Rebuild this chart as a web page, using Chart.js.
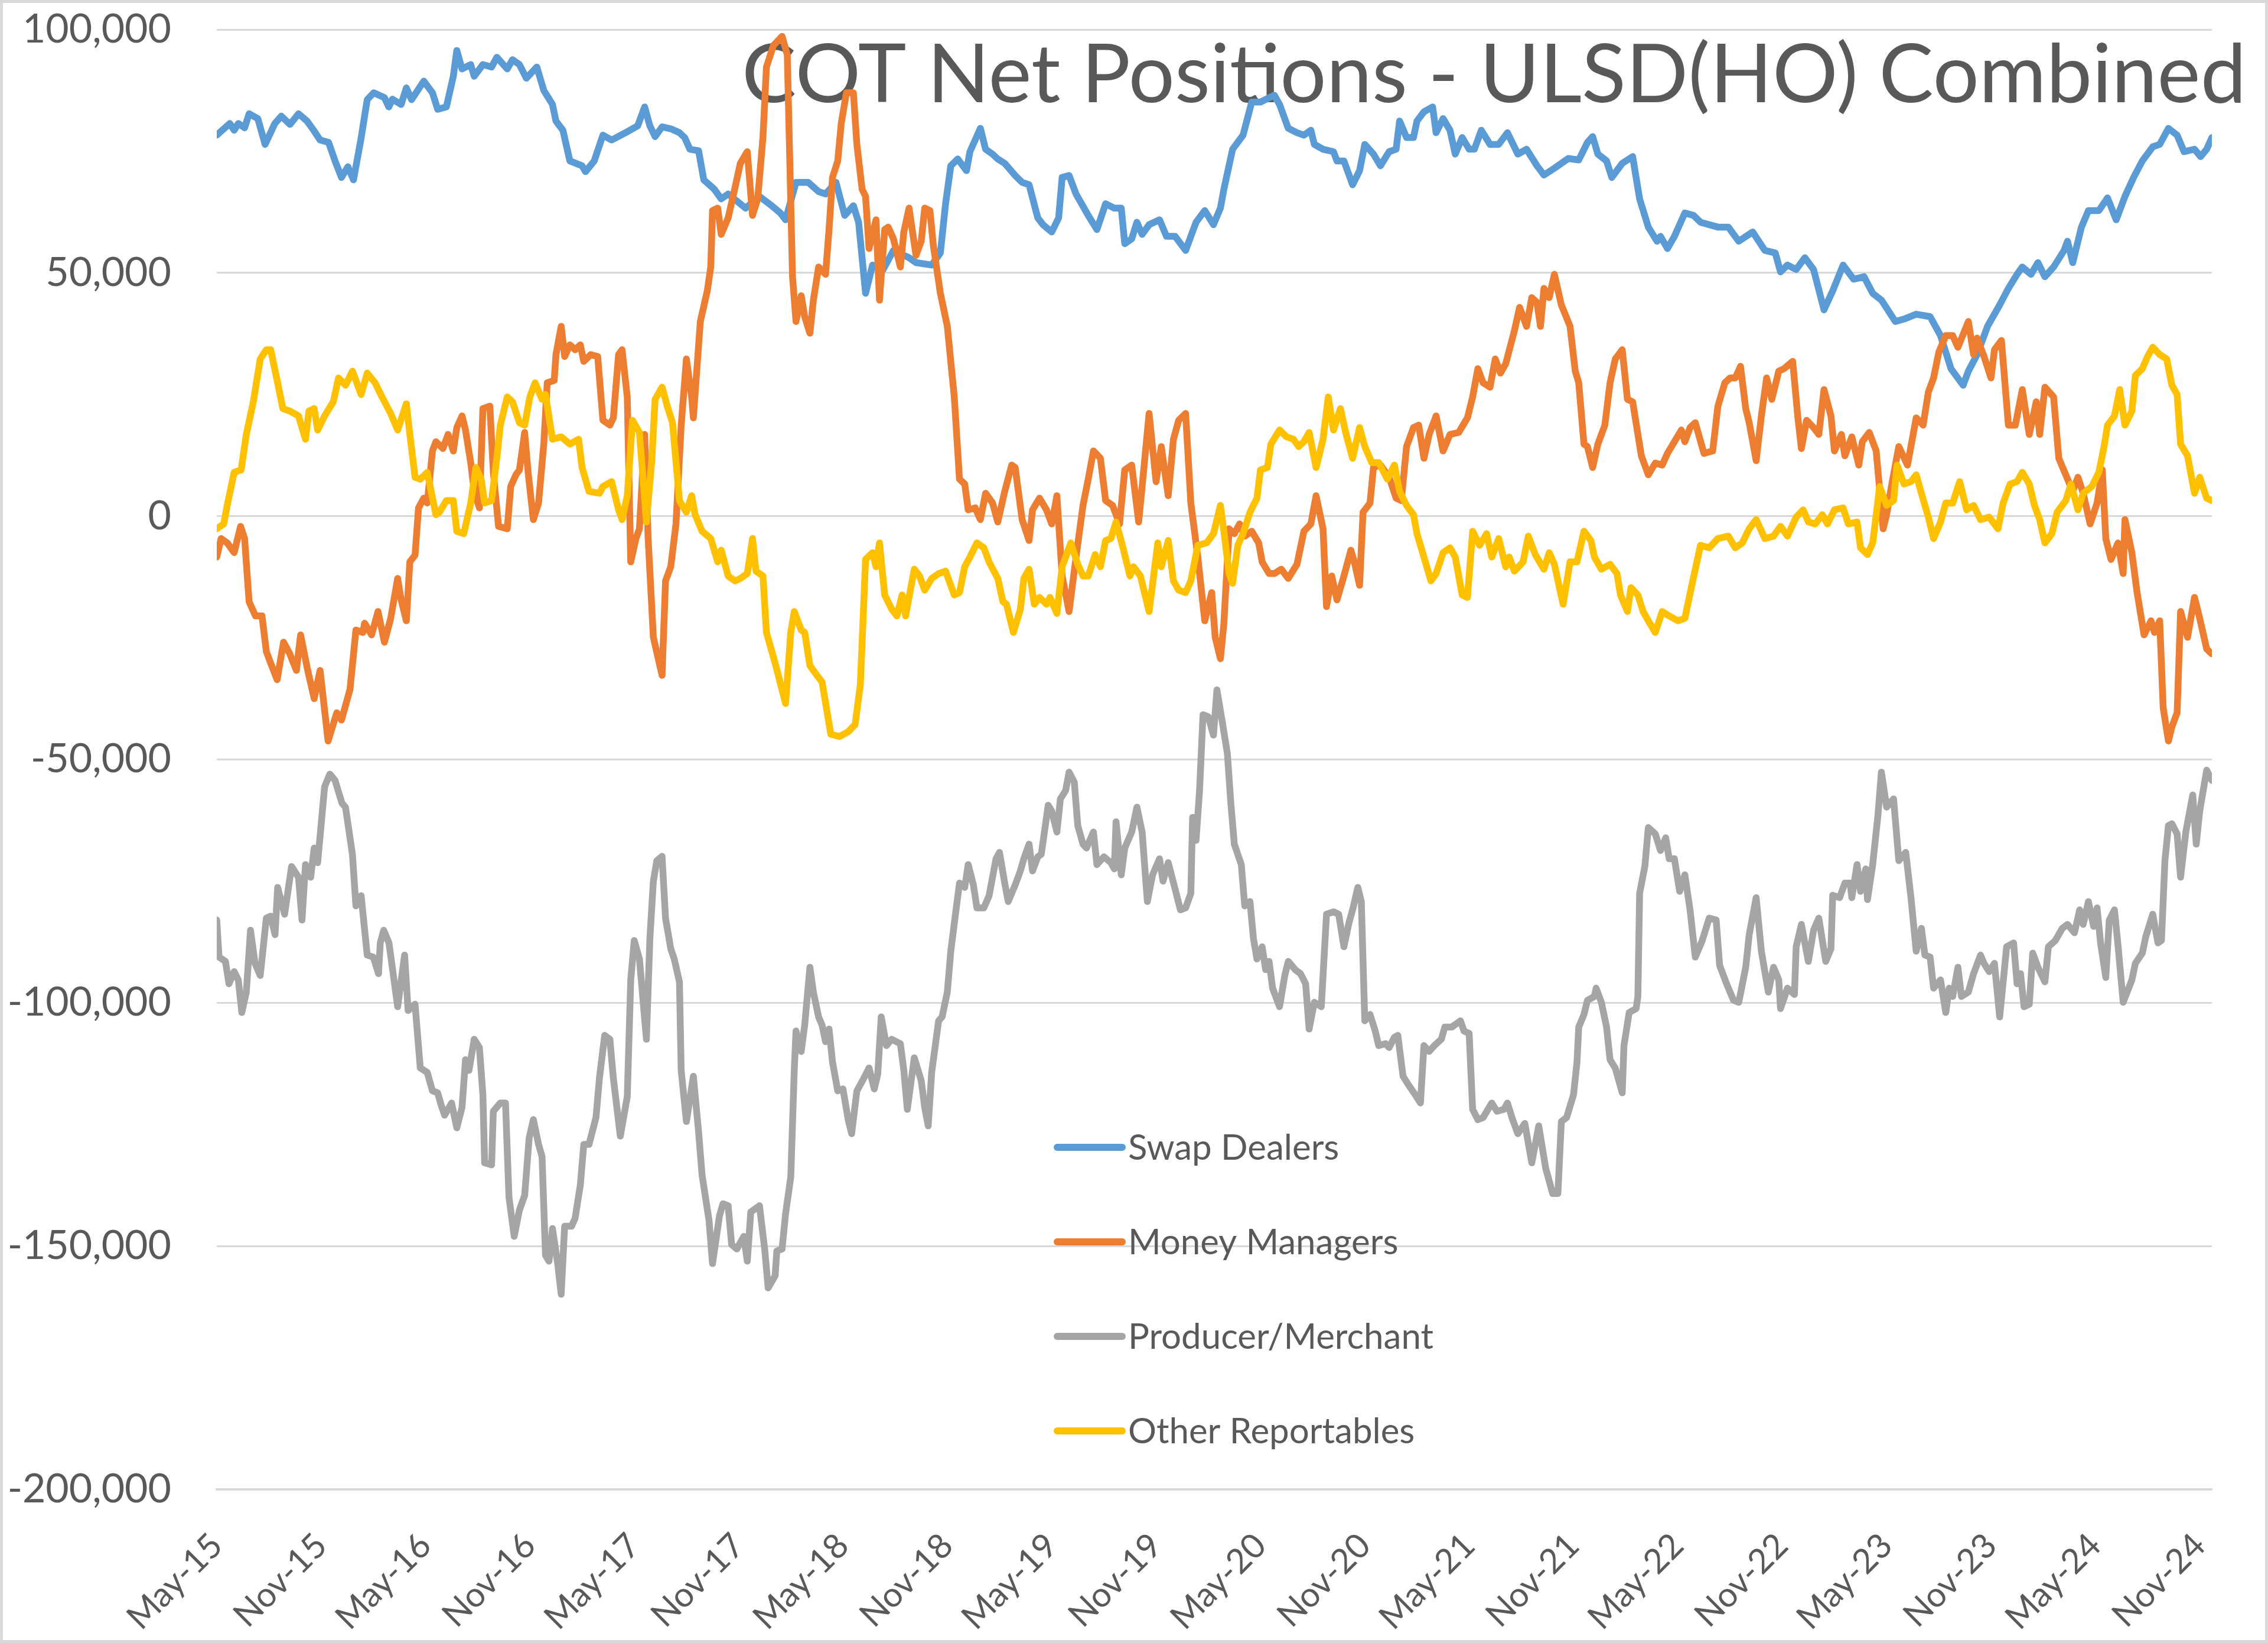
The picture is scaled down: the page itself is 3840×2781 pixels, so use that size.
<!DOCTYPE html>
<html>
<head>
<meta charset="utf-8">
<script src="https://cdn.jsdelivr.net/npm/chart.js@4.4.1/dist/chart.umd.min.js"></script>
<style>
  html, body { margin: 0; padding: 0; background: #ffffff; }
  #wrap { position: relative; width: 3840px; height: 2781px; }
  canvas { display: block; }
</style>
</head>
<body>
<div id="wrap"><canvas id="c" width="3840" height="2781"></canvas></div>
<script>
// ---------------- DATA ----------------
const chartTitle = 'COT Net Positions - ULSD(HO) Combined';
const tickLabels = ['May-15','Nov-15','May-16','Nov-16','May-17','Nov-17','May-18','Nov-18','May-19','Nov-19',
                    'May-20','Nov-20','May-21','Nov-21','May-22','Nov-22','May-23','Nov-23','May-24','Nov-24'];
const seriesNames = ['Swap Dealers', 'Money Managers', 'Producer/Merchant', 'Other Reportables'];
const seriesColors = ['#5B9BD5', '#ED7D31', '#A5A5A5', '#FFC000'];
const lastMonth = 114.7; // last report, in months since May-15

// [months since May-15, net position]
const swapDealers = [[0,78300],[0.75,80700],[1,79300],[1.24,80700],[1.6,79800],[1.86,82700],[2.36,81700],[2.78,76400],[3.34,80700],[3.71,82200],[4.21,80500],[4.7,82700],[5.19,81200],[5.57,79300],[5.94,77300],[6.43,76800],[6.8,73000],[7.17,69600],[7.54,71800],[7.86,69100],[8.28,77300],[8.65,85600],[9.02,87000],[9.64,86000],[9.89,84100],[10.1,85700],[10.6,84600],[10.9,88000],[11.2,85600],[11.9,89400],[12.4,87000],[12.7,83600],[13.2,84100],[13.6,90400],[13.8,95700],[14.1,91900],[14.6,92800],[14.8,90400],[15.3,92800],[15.8,92300],[16.1,94300],[16.7,91900],[17,93800],[17.4,92800],[17.8,90000],[18.4,92300],[18.8,87500],[19.3,84600],[19.5,81200],[19.9,79300],[20.3,73000],[21,72000],[21.2,70800],[21.7,73000],[22.2,78300],[22.7,77300],[23.5,78800],[24.2,80200],[24.6,84100],[24.9,80200],[25.2,78000],[25.6,80000],[26.1,79600],[26.6,78800],[26.9,77800],[27.2,75400],[27.7,75100],[28,69100],[28.6,67200],[29,65200],[29.4,66200],[30.4,63300],[31.2,65700],[31.9,63800],[32.4,62300],[32.7,60900],[33.3,68600],[34,68600],[34.6,66700],[35,66200],[35.6,68600],[36.1,61800],[36.6,63800],[36.9,60400],[37.3,45800],[37.7,51600],[38.3,50600],[38.9,54600],[39.8,53100],[40.2,52100],[41.1,51600],[41.6,54100],[41.9,64200],[42.2,72000],[42.6,73400],[43.1,71000],[43.3,74900],[43.6,77300],[43.9,79700],[44.2,75400],[44.6,74400],[44.9,73400],[45.3,72500],[45.9,70000],[46.3,68600],[46.7,68100],[47.2,61300],[47.5,59900],[48,58400],[48.4,61300],[48.6,69600],[49,70000],[49.4,66200],[50.1,61800],[50.6,58900],[51.1,64200],[51.6,63300],[52,63300],[52.2,56000],[52.6,57000],[52.9,60400],[53.2,57900],[53.6,59900],[54.2,60900],[54.6,57500],[55.1,57500],[55.7,54600],[56,57500],[56.3,60400],[56.8,62800],[57.3,59900],[57.7,63300],[57.9,67200],[58.4,75400],[59,78300],[59.5,85100],[60,85100],[60.8,86500],[61.1,84600],[61.6,79700],[62.1,78800],[62.5,78300],[62.9,79300],[63.1,76400],[63.6,75400],[64.2,74900],[64.4,73000],[64.8,73000],[65.3,68100],[65.7,71000],[66,76400],[66.5,74400],[66.9,72000],[67.4,74900],[67.8,75400],[68,81200],[68.4,77800],[68.8,77800],[69,81200],[69.4,83100],[69.9,84100],[70.1,78800],[70.5,81700],[70.9,79300],[71.2,74400],[71.6,77800],[72,75400],[72.3,75400],[72.7,79300],[73.2,76400],[73.7,76400],[74.2,78800],[74.8,74400],[75.3,75400],[75.9,72000],[76.3,70100],[76.9,71500],[77.7,73500],[78.3,73200],[78.8,76800],[79.1,78000],[79.4,74400],[79.9,73000],[80.2,69600],[80.8,72500],[81.4,73900],[81.8,65200],[82.3,59400],[82.8,56500],[83,57500],[83.4,55000],[83.8,57500],[84.4,62300],[84.9,61800],[85.3,60400],[86.3,59400],[86.9,59400],[87.5,56500],[88.3,58400],[89,54600],[89.6,54100],[89.9,50200],[90.3,51600],[90.8,50700],[91.3,53100],[91.8,50700],[92.4,42400],[92.9,46300],[93.5,51600],[94.1,48700],[94.7,49200],[95.2,45800],[95.7,44400],[96.5,40000],[97,40500],[97.7,41500],[98.5,41000],[99.1,37100],[99.7,30300],[100.4,26900],[100.7,29800],[101.2,33200],[101.8,39000],[102.5,43400],[103,46800],[103.5,49700],[103.8,51200],[104.3,49700],[104.7,52100],[105.1,49200],[105.6,51200],[106.2,54600],[106.4,56500],[106.7,52100],[107.2,59400],[107.6,62800],[108.2,62800],[108.7,65400],[109.2,60900],[109.7,65700],[110.2,69600],[110.7,73000],[111.3,75900],[111.7,76400],[112.2,79700],[112.7,78300],[113.1,74900],[113.7,75400],[114.05,73900],[114.4,75400],[114.7,77800]];

const moneyManagers = [[0,-8400],[0.25,-4600],[0.6,-5500],[1,-7500],[1.37,-2100],[1.6,-4600],[1.86,-17600],[2.23,-20500],[2.6,-20500],[2.85,-27800],[3.1,-30200],[3.47,-33600],[3.84,-25900],[4.2,-28300],[4.58,-31700],[4.82,-24400],[5.2,-31200],[5.6,-37500],[5.94,-31700],[6.4,-46200],[6.9,-40400],[7.17,-41900],[7.66,-35600],[8,-23400],[8.4,-23900],[8.5,-22000],[8.9,-24400],[9.27,-19600],[9.64,-25900],[10,-21000],[10.4,-12800],[10.6,-17200],[10.9,-21500],[11.1,-9400],[11.4,-8000],[11.6,1700],[11.9,3700],[12.1,2700],[12.4,13400],[12.6,15300],[13,13900],[13.3,16800],[13.6,13400],[13.8,18200],[14.1,20600],[14.3,17700],[14.6,11000],[14.8,5100],[15.1,1700],[15.3,22100],[15.7,22600],[15.9,9000],[16.2,-2100],[16.7,-2600],[16.9,6100],[17.2,8500],[17.4,9500],[17.7,17200],[17.9,9000],[18.2,-700],[18.5,2700],[18.8,14800],[19,27400],[19.4,27900],[19.5,33200],[19.8,39000],[20,32800],[20.3,35200],[20.6,34200],[20.9,35200],[21.1,31800],[21.5,33200],[21.9,32800],[22.2,19700],[22.6,18700],[22.8,20200],[23.1,33200],[23.3,34200],[23.6,24500],[23.8,-9400],[24.1,-4600],[24.3,-2600],[24.6,16800],[24.8,-4600],[25.1,-24900],[25.6,-32700],[25.8,-13300],[26.1,-10400],[26.4,-1600],[26.7,18700],[27,32300],[27.3,24500],[27.4,20200],[27.8,40000],[28.2,46300],[28.4,51200],[28.5,62800],[28.8,63300],[29,57900],[29.4,61300],[29.8,67600],[30.1,72500],[30.5,74900],[30.8,61800],[31.1,65200],[31.4,77800],[31.6,92300],[32,96700],[32.5,98600],[32.8,94800],[33.1,49200],[33.3,40000],[33.6,45300],[33.8,41000],[34.1,37600],[34.3,44400],[34.6,51200],[35,49700],[35.2,58900],[35.4,69600],[35.7,73000],[35.9,80700],[36.2,87000],[36.6,87000],[36.8,76400],[37.1,67200],[37.3,65700],[37.5,55000],[37.9,60900],[38.1,44400],[38.4,58900],[38.6,59400],[38.9,57000],[39.3,51200],[39.5,58400],[39.8,63300],[40,58400],[40.2,53600],[40.5,56500],[40.7,63300],[41,62800],[41.2,55500],[41.6,45800],[42,39000],[42.4,24500],[42.7,7600],[43,6600],[43.2,1300],[43.6,1700],[43.9,-700],[44.2,4700],[44.6,2700],[44.9,-1200],[45.3,5100],[45.7,10500],[45.9,10000],[46.3,-700],[46.7,-5000],[46.9,1300],[47.3,3700],[47.7,1300],[48,-1600],[48.3,4200],[48.6,-12300],[49,-19600],[49.4,-8400],[49.8,2200],[50.1,7600],[50.4,13400],[50.8,11900],[51.1,3200],[51.5,2200],[51.9,-1600],[52.2,9500],[52.6,10500],[53,-1200],[53.2,6100],[53.6,21100],[54,7100],[54.3,14300],[54.7,4200],[55,15800],[55.3,19700],[55.7,21100],[56,2700],[56.4,-8400],[56.8,-21500],[57.2,-15700],[57.4,-24900],[57.7,-29300],[57.9,-22000],[58.2,-2600],[58.5,-3600],[58.8,-1600],[59.1,-4100],[59.5,-3100],[59.9,-5500],[60.1,-9400],[60.5,-11800],[60.8,-11800],[61.2,-10900],[61.6,-12800],[62.1,-9900],[62.5,-3100],[62.9,-1600],[63.2,4200],[63.6,-2600],[63.8,-18600],[64.1,-12300],[64.4,-17200],[64.8,-12300],[65.2,-7000],[65.4,-9400],[65.7,-14200],[65.9,800],[66.3,2700],[66.5,10000],[66.9,10500],[67.4,8000],[67.8,3700],[68.1,3200],[68.4,14300],[68.8,18200],[69.1,18700],[69.4,11900],[69.7,16800],[70.1,20600],[70.5,13400],[70.9,16800],[71.4,17200],[71.9,20200],[72.2,24500],[72.5,30300],[72.8,27400],[73.2,26500],[73.5,32300],[73.8,29400],[74.1,31300],[74.6,38100],[74.9,42900],[75.3,39000],[75.6,44900],[75.9,43900],[76.1,39000],[76.3,46800],[76.6,44900],[76.9,49700],[77.3,43400],[77.8,39000],[78.1,29800],[78.3,27400],[78.6,14800],[78.8,14300],[79.1,10000],[79.4,14800],[79.8,18700],[80.1,27400],[80.4,32300],[80.8,34200],[81.1,24000],[81.4,23500],[81.9,12400],[82.3,8500],[82.7,10900],[83.1,10500],[83.4,12900],[83.8,15300],[84.2,17700],[84.4,15300],[84.7,18200],[85,19200],[85.5,12900],[86,13400],[86.3,22600],[86.7,27400],[87,28400],[87.3,28400],[87.6,30800],[87.9,22100],[88.1,19200],[88.5,11400],[88.8,20600],[89.1,28400],[89.4,24000],[89.8,29800],[90.1,30300],[90.6,31800],[90.9,20200],[91.1,13900],[91.4,19700],[91.8,18200],[92.1,16800],[92.4,26000],[92.8,20600],[93,13400],[93.4,16800],[93.6,12400],[94,16300],[94.4,10500],[94.6,15300],[95,17200],[95.4,13400],[95.8,-2600],[96,300],[96.3,6600],[96.7,14300],[97.2,10500],[97.7,20200],[98.1,18700],[98.4,25500],[98.7,28400],[99,33700],[99.4,37100],[99.8,37100],[100.1,34700],[100.7,40000],[101,33200],[101.2,36600],[101.6,32800],[102,28400],[102.2,34200],[102.6,36100],[103,18700],[103.4,18700],[103.8,26000],[104.2,16800],[104.6,23500],[104.8,16800],[105.1,26500],[105.6,24500],[105.9,11900],[106.3,8500],[106.7,5100],[107,8000],[107.3,4700],[107.7,-1600],[108.1,2700],[108.4,9500],[108.6,-4600],[108.9,-8900],[109.3,-5500],[109.6,-11800],[109.7,-700],[110.1,-7500],[110.4,-15700],[110.8,-24400],[111.2,-21500],[111.4,-23900],[111.7,-21500],[111.9,-39400],[112.2,-46200],[112.4,-43300],[112.7,-40400],[112.9,-19600],[113.3,-24900],[113.7,-16700],[114,-21000],[114.4,-27300],[114.7,-28300]];

const producerMerchant = [[0,-83000],[0.13,-90600],[0.5,-91500],[0.7,-96100],[1,-93600],[1.24,-95300],[1.44,-102000],[1.7,-97800],[1.94,-85100],[2.2,-91900],[2.5,-94400],[2.85,-82600],[3.1,-82200],[3.35,-86000],[3.5,-76300],[3.9,-81800],[4.3,-72000],[4.7,-74200],[4.9,-83000],[5.1,-71600],[5.4,-74200],[5.6,-68200],[5.8,-71200],[6.2,-55600],[6.5,-53000],[6.8,-54300],[7.2,-59000],[7.4,-59800],[7.8,-69500],[8,-80100],[8.3,-78000],[8.65,-90200],[9,-90600],[9.3,-94000],[9.4,-87700],[9.6,-85100],[9.9,-87700],[10.4,-100800],[10.8,-90200],[11,-101600],[11.4,-100300],[11.7,-113400],[12.1,-114300],[12.4,-118100],[12.7,-118500],[12.9,-121000],[13.1,-123100],[13.5,-120600],[13.8,-125700],[14.1,-121500],[14.3,-111700],[14.5,-113900],[14.8,-107500],[15.1,-109200],[15.3,-118900],[15.4,-132900],[15.8,-133300],[15.9,-122300],[16.3,-120600],[16.6,-120600],[16.8,-140000],[17.1,-148000],[17.4,-142600],[17.7,-139600],[17.96,-127800],[18.2,-124000],[18.5,-129100],[18.7,-131600],[18.9,-151900],[19.1,-153100],[19.3,-146400],[19.6,-153600],[19.8,-159900],[20,-145900],[20.4,-145900],[20.6,-144300],[20.9,-137500],[21.1,-129100],[21.4,-129100],[21.8,-123600],[22,-115500],[22.3,-106700],[22.6,-107500],[22.8,-115500],[23.2,-127400],[23.6,-119300],[23.8,-95300],[24,-87200],[24.3,-91000],[24.7,-107500],[24.9,-86800],[25.1,-75000],[25.3,-70800],[25.6,-69900],[25.8,-82600],[26.1,-88900],[26.3,-91000],[26.6,-95700],[26.7,-113900],[27,-124400],[27.4,-115100],[27.7,-126500],[27.9,-135400],[28.3,-144700],[28.5,-153600],[28.9,-143800],[29.1,-141300],[29.4,-141700],[29.6,-149700],[29.9,-150600],[30.3,-148000],[30.5,-153100],[30.7,-143000],[31.2,-141700],[31.5,-150600],[31.7,-158600],[32.1,-156100],[32.2,-151000],[32.5,-150600],[32.7,-143400],[33,-135800],[33.2,-113900],[33.3,-105800],[33.6,-110000],[33.8,-104600],[34.1,-92700],[34.3,-97800],[34.6,-102900],[34.8,-104600],[35,-108000],[35.2,-105400],[35.4,-112200],[35.7,-118100],[36,-117700],[36.3,-124000],[36.5,-126900],[36.8,-118100],[37.2,-115500],[37.5,-113400],[37.8,-117700],[38,-114700],[38.2,-102900],[38.5,-108800],[38.8,-107500],[39.3,-108400],[39.5,-113900],[39.7,-121900],[40.1,-111300],[40.5,-116000],[40.7,-121500],[40.9,-125300],[41.1,-114300],[41.5,-103700],[41.7,-102900],[42,-97800],[42.2,-89400],[42.5,-80900],[42.7,-75400],[43,-76300],[43.2,-71600],[43.5,-75800],[43.7,-80500],[44.1,-80500],[44.4,-78000],[44.8,-70400],[45,-69100],[45.3,-75400],[45.5,-79200],[45.9,-75800],[46.2,-72900],[46.4,-70400],[46.7,-67400],[46.9,-72900],[47.2,-70000],[47.4,-69500],[47.8,-59400],[48,-60600],[48.3,-64900],[48.5,-58100],[48.8,-56400],[49,-52600],[49.3,-54700],[49.5,-63600],[49.8,-67400],[50,-68200],[50.4,-64900],[50.6,-71600],[51,-70000],[51.4,-71200],[51.6,-72500],[51.7,-62800],[52,-73700],[52.2,-68200],[52.6,-64900],[52.9,-59800],[53.2,-64900],[53.5,-79200],[53.8,-73700],[54.2,-70400],[54.4,-75000],[54.7,-71200],[55.1,-76700],[55.4,-80900],[55.7,-80500],[56,-77500],[56.1,-61900],[56.3,-66600],[56.5,-56400],[56.7,-40800],[57,-41200],[57.3,-45000],[57.5,-35700],[57.8,-42100],[58.1,-48800],[58.3,-59000],[58.5,-67400],[58.9,-71600],[59.1,-80100],[59.4,-79200],[59.6,-86800],[59.8,-91000],[60.1,-88500],[60.3,-93200],[60.5,-91500],[60.7,-97000],[61.1,-100800],[61.4,-94400],[61.6,-91500],[62,-93200],[62.3,-94000],[62.6,-96100],[62.8,-105400],[63.1,-99900],[63.5,-100800],[63.8,-81800],[64.2,-81300],[64.5,-81800],[64.8,-88500],[65.1,-83400],[65.3,-80900],[65.6,-76300],[65.8,-79200],[66,-103700],[66.3,-102400],[66.6,-105800],[66.8,-108800],[67.2,-108400],[67.4,-109200],[67.7,-107100],[67.9,-106700],[68.2,-115100],[68.5,-116800],[68.9,-118900],[69.2,-120600],[69.4,-108800],[69.7,-110000],[70,-108800],[70.4,-107500],[70.6,-105000],[71,-105000],[71.5,-103700],[71.7,-105800],[72,-106300],[72.2,-121900],[72.5,-124000],[72.8,-123600],[73.3,-120600],[73.6,-122300],[74,-121900],[74.2,-120600],[74.5,-124000],[74.8,-126900],[75.2,-124800],[75.6,-132900],[76,-125300],[76.4,-134000],[76.8,-139200],[77.1,-139200],[77.3,-124400],[77.6,-123600],[78,-118900],[78.2,-112200],[78.3,-105000],[78.6,-102400],[78.8,-99500],[79.2,-98700],[79.3,-97000],[79.6,-99900],[79.9,-105000],[80.1,-111700],[80.4,-113400],[80.8,-118500],[80.9,-108800],[81.2,-102000],[81.6,-101200],[81.7,-98700],[81.8,-77500],[82.1,-72000],[82.3,-64000],[82.7,-65300],[83,-68700],[83.3,-66100],[83.5,-70400],[83.8,-70400],[84.1,-77100],[84.4,-73700],[84.7,-80900],[85,-90600],[85.4,-87200],[85.8,-82600],[86.2,-83000],[86.4,-92300],[86.8,-96100],[87.2,-99500],[87.5,-99900],[87.9,-92700],[88.1,-86000],[88.5,-78400],[88.8,-89400],[89.2,-97800],[89.5,-92700],[89.8,-95300],[89.9,-101200],[90.3,-97000],[90.7,-98300],[90.8,-88500],[91.1,-83900],[91.5,-91500],[91.8,-85100],[92.1,-82600],[92.5,-91500],[92.8,-88900],[92.9,-77900],[93.3,-78400],[93.6,-75400],[93.9,-75400],[94,-78400],[94.3,-71600],[94.5,-77100],[94.8,-72500],[94.9,-78800],[95.2,-71600],[95.5,-61500],[95.7,-52600],[96,-59800],[96.4,-58100],[96.7,-70800],[97.1,-69100],[97.4,-78400],[97.7,-89400],[98,-84700],[98.2,-90200],[98.5,-90600],[98.7,-97000],[99.1,-95300],[99.4,-102000],[99.6,-97000],[99.8,-98700],[100.1,-92700],[100.3,-98700],[100.7,-97800],[101,-94000],[101.4,-90200],[101.6,-91900],[101.9,-93600],[102.2,-91900],[102.5,-102900],[102.9,-88500],[103.3,-87700],[103.5,-96100],[103.7,-94000],[103.9,-100800],[104.2,-100300],[104.4,-89800],[104.7,-92700],[105.1,-95700],[105.3,-88500],[105.7,-87200],[106.1,-84700],[106.4,-83900],[106.8,-85600],[107.1,-80900],[107.3,-83900],[107.6,-79200],[107.9,-84300],[108.1,-80500],[108.3,-87700],[108.6,-94800],[108.8,-83000],[109.1,-80900],[109.3,-88100],[109.6,-99900],[110.1,-95300],[110.3,-91900],[110.7,-89800],[110.9,-86400],[111.3,-81800],[111.6,-87700],[111.8,-87200],[112,-70800],[112.2,-63600],[112.4,-63200],[112.7,-65300],[112.9,-74200],[113.2,-64900],[113.6,-57300],[113.8,-67400],[114,-60600],[114.4,-52200],[114.7,-54300]];

const otherReportables = [[0,-2600],[0.4,-1600],[0.6,2200],[1,9000],[1.4,9500],[1.7,16800],[2.1,23500],[2.5,32300],[2.85,34200],[3.1,34200],[3.5,27400],[3.8,22100],[4.2,21600],[4.7,20600],[5.1,15800],[5.3,21600],[5.6,22100],[5.8,17700],[6.2,20600],[6.7,23500],[7,28400],[7.4,26900],[7.8,29800],[8.3,25000],[8.65,29400],[9.1,27400],[9.5,24500],[10,21100],[10.4,17700],[10.9,23100],[11.1,16800],[11.4,8000],[11.7,7600],[12.1,9000],[12.6,300],[12.8,800],[13.2,3200],[13.6,3200],[13.8,-3100],[14.2,-3600],[14.6,2700],[14.9,10000],[15.2,7600],[15.4,2700],[15.8,3200],[16.1,11900],[16.3,18700],[16.7,24500],[17,23500],[17.4,19200],[17.7,18700],[18,24500],[18.3,27400],[18.7,24000],[18.9,25000],[19.3,15800],[19.8,16300],[20.3,14800],[20.8,15800],[21,10000],[21.4,5100],[22,4700],[22.2,6100],[22.7,7100],[23.1,1300],[23.3,-700],[23.6,4200],[23.9,19700],[24.3,17200],[24.7,-1200],[25,11000],[25.2,24000],[25.6,26500],[25.9,22600],[26.2,19200],[26.6,3200],[27,800],[27.3,4200],[27.5,300],[27.9,-3100],[28.4,-4600],[28.8,-9400],[29,-7000],[29.4,-12300],[29.8,-13300],[30.1,-12800],[30.5,-11800],[30.8,-4600],[31,-11300],[31.4,-12300],[31.6,-23900],[32.1,-30200],[32.7,-38500],[33,-23900],[33.2,-19600],[33.6,-23400],[33.8,-23900],[34.1,-30700],[34.5,-32700],[34.8,-34100],[35.3,-44800],[35.8,-45300],[36.3,-44300],[36.7,-42800],[37,-34600],[37.3,-8900],[37.7,-7500],[37.9,-10400],[38.1,-5500],[38.4,-16200],[38.8,-19100],[39.1,-20500],[39.4,-16200],[39.6,-20500],[40.1,-10900],[40.4,-12300],[40.7,-15200],[41.1,-12800],[41.5,-11800],[41.9,-11300],[42.4,-16200],[42.7,-15700],[43,-10400],[43.3,-8400],[43.7,-5500],[44.1,-6500],[44.4,-9400],[44.9,-12800],[45.2,-17600],[45.4,-18100],[45.8,-23900],[46.2,-19100],[46.4,-12800],[46.7,-10900],[47,-18100],[47.3,-16700],[47.7,-18100],[47.9,-16700],[48.3,-20000],[48.6,-10400],[49.1,-5500],[49.5,-9900],[49.8,-12300],[50.1,-12300],[50.5,-7900],[50.8,-10400],[51.1,-5000],[51.4,-4600],[51.7,-1200],[52.1,-6500],[52.5,-12300],[52.7,-10400],[53.1,-12300],[53.6,-19600],[54.1,-5500],[54.3,-10400],[54.7,-5000],[55,-13300],[55.3,-15200],[55.7,-15700],[56,-13300],[56.4,-6000],[56.9,-5500],[57.3,-3600],[57.7,2200],[57.9,-3100],[58.2,-11800],[58.4,-13800],[58.7,-6000],[59,-3600],[59.4,800],[59.8,3700],[60,9500],[60.4,10000],[60.6,14800],[61.1,17700],[61.5,16300],[61.9,15800],[62.2,14300],[62.5,15300],[62.8,17200],[63.2,10000],[63.6,15800],[63.9,24500],[64.2,17700],[64.6,22100],[64.9,17200],[65.3,11900],[65.7,18200],[66,14300],[66.4,11000],[66.8,11000],[67.3,7600],[67.7,10500],[68,5100],[68.4,2200],[68.8,300],[69,-3600],[69.4,-8400],[69.8,-13300],[70.1,-11800],[70.5,-7500],[70.9,-6500],[71.2,-8400],[71.6,-16200],[71.9,-16700],[72.2,-3100],[72.6,-6000],[73,-3600],[73.3,-8400],[73.7,-4600],[74.1,-10400],[74.3,-8400],[74.6,-11300],[75.1,-9400],[75.4,-4100],[75.8,-7900],[76.3,-10900],[76.6,-7500],[76.9,-9900],[77.4,-18100],[77.8,-9400],[78.2,-9400],[78.6,-3100],[79,-5000],[79.2,-8400],[79.6,-10900],[80.1,-9900],[80.5,-11800],[80.7,-16200],[81.1,-19600],[81.3,-14700],[81.7,-16200],[82,-19600],[82.3,-21500],[82.7,-23900],[83.1,-19600],[83.5,-20500],[84,-21500],[84.4,-21000],[84.8,-14200],[85.3,-6000],[85.8,-6500],[86.3,-4600],[86.9,-4100],[87.3,-6500],[87.7,-5500],[88.1,-2600],[88.5,-700],[89,-4600],[89.5,-4100],[89.9,-2100],[90.3,-4100],[90.8,-200],[91.2,1300],[91.5,-1200],[91.9,-1600],[92.3,300],[92.6,-1600],[93,1300],[93.5,1700],[93.8,-1600],[94.3,-1200],[94.5,-6500],[94.9,-7900],[95.2,-5500],[95.6,6100],[96,2200],[96.4,3200],[96.6,10500],[97,6600],[97.4,7100],[97.7,8500],[98,4700],[98.4,-200],[98.7,-4600],[99.1,-1200],[99.4,2700],[99.8,2700],[100.2,7100],[100.6,1300],[101,2200],[101.4,-700],[101.9,-200],[102.4,-2600],[102.7,2700],[103.1,6600],[103.5,7100],[103.8,9000],[104.2,6600],[104.5,2200],[104.8,-700],[105.1,-5500],[105.5,-3600],[105.8,800],[106.3,3200],[106.6,6600],[107,1300],[107.3,4700],[107.8,6100],[108.2,9000],[108.5,14300],[108.7,18700],[109.1,20600],[109.4,26000],[109.7,18700],[110.1,21600],[110.3,28900],[110.7,30300],[111,32800],[111.3,34700],[111.7,33200],[112.1,32300],[112.4,26900],[112.7,25000],[112.9,14800],[113.3,12400],[113.7,4700],[114,8000],[114.4,3700],[114.7,3200]];

const allSeries = [swapDealers, moneyManagers, producerMerchant, otherReportables];

// ---------------- LAYOUT / STYLE ----------------
const FONT = 'Lato, "Open Sans", "Liberation Sans", sans-serif';
const TEXT_COLOR = '#595959';
const GRID_COLOR = '#D9D9D9';

const framePlugin = {
  id: 'frame',
  beforeDraw(chart) {
    const ctx = chart.ctx;
    ctx.save();
    ctx.fillStyle = '#ffffff';
    ctx.fillRect(0, 0, chart.width, chart.height);
    ctx.restore();
  },
  afterDraw(chart) {
    const ctx = chart.ctx;
    ctx.save();
    ctx.strokeStyle = GRID_COLOR;
    ctx.lineWidth = 5;
    ctx.strokeRect(2.5, 2.5, chart.width - 5, chart.height - 5);
    ctx.restore();
  }
};

const titlePlugin = {
  id: 'overlayTitle',
  beforeDatasetsDraw(chart) {
    const ctx = chart.ctx;
    ctx.save();
    ctx.font = '100px ' + FONT;
    const w100 = ctx.measureText(chartTitle).width;
    const size = 100 * 2547 / w100;
    ctx.font = size.toFixed(1) + 'px ' + FONT;
    ctx.fillStyle = TEXT_COLOR;
    ctx.textBaseline = 'alphabetic';
    ctx.textAlign = 'left';
    ctx.fillText(chartTitle, 1256, 173);
    ctx.restore();
  }
};

const legendPlugin = {
  id: 'overlayLegend',
  afterDatasetsDraw(chart) {
    const ctx = chart.ctx;
    ctx.save();
    ctx.font = '60px ' + FONT;
    ctx.textBaseline = 'alphabetic';
    ctx.textAlign = 'left';
    seriesNames.forEach((name, i) => {
      const y = 1942 + i * 160;
      ctx.strokeStyle = seriesColors[i];
      ctx.lineWidth = 12;
      ctx.lineCap = 'round';
      ctx.beginPath();
      ctx.moveTo(1790, y);
      ctx.lineTo(1900, y);
      ctx.stroke();
      ctx.fillStyle = TEXT_COLOR;
      ctx.fillText(name, 1910, y + 21);
    });
    ctx.restore();
  }
};

Chart.defaults.font.family = FONT;
Chart.defaults.color = TEXT_COLOR;

const datasets = allSeries.map((s, i) => ({
  label: seriesNames[i],
  data: s.map(p => ({ x: p[0], y: p[1] })),
  borderColor: seriesColors[i],
  backgroundColor: seriesColors[i],
  borderWidth: 11.5,
  pointRadius: 0,
  pointHoverRadius: 0,
  tension: 0,
  borderJoinStyle: 'round',
  borderCapStyle: 'round',
  fill: false,
  order: 4 - i
}));

new Chart(document.getElementById('c'), {
  type: 'line',
  data: { datasets },
  options: {
    responsive: false,
    animation: false,
    devicePixelRatio: 1,
    layout: { padding: { left: 0, top: 50, right: 95, bottom: 0 } },
    plugins: {
      legend: { display: false },
      title: { display: false },
      tooltip: { enabled: false }
    },
    scales: {
      x: {
        type: 'linear',
        min: 0,
        max: lastMonth,
        grid: { display: false, drawTicks: false },
        border: { display: true, color: GRID_COLOR, width: 4 },
        afterBuildTicks(scale) {
          scale.ticks = tickLabels.map((_, i) => ({ value: i * 6 }));
        },
        afterFit(scale) {
          scale.height = 2781 - 2521;
          scale.paddingLeft = 0;
          scale.paddingRight = 0;
        },
        ticks: {
          autoSkip: false,
          minRotation: 45,
          maxRotation: 45,
          padding: 61,
          color: TEXT_COLOR,
          font: { size: 58, family: FONT },
          callback(value) { return tickLabels[Math.round(value / 6)] ?? ''; }
        }
      },
      y: {
        type: 'linear',
        min: -200000,
        max: 100000,
        grid: { color: GRID_COLOR, lineWidth: 3, drawTicks: false },
        border: { display: false },
        afterFit(scale) {
          scale.width = 367;
          scale.paddingTop = 0;
          scale.paddingBottom = 0;
        },
        ticks: {
          stepSize: 50000,
          padding: 77,
          color: TEXT_COLOR,
          font: { size: 68, family: FONT },
          callback(value) { return value.toLocaleString('en-US'); }
        }
      }
    }
  },
  plugins: [framePlugin, titlePlugin, legendPlugin]
});
</script>
</body>
</html>
